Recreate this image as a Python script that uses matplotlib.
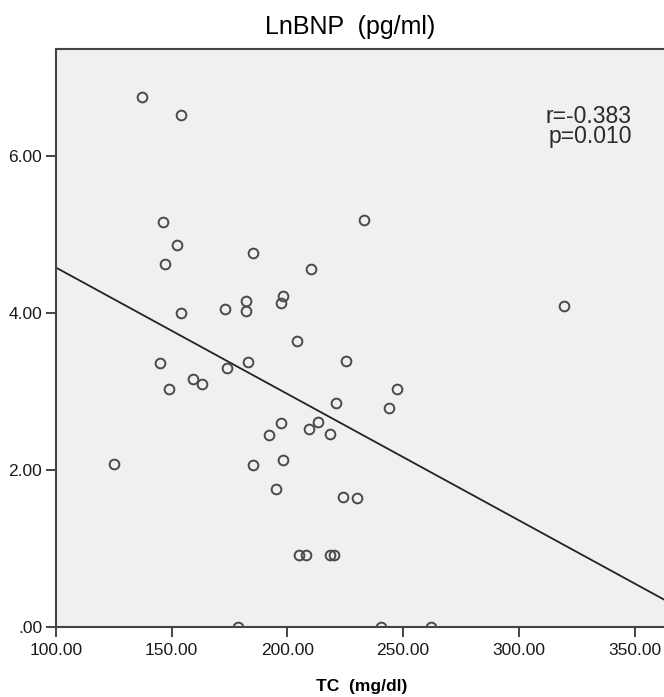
import matplotlib.pyplot as plt
import numpy as np

plt.rcParams['font.family'] = ['Liberation Sans', 'DejaVu Sans']

# TC (mg/dl) et LnBNP (pg/ml)
tc = [137.0, 154.0, 146.1, 152.1, 147.1, 185.1, 233.2, 210.2, 319.4, 198.2,
      197.1, 182.1, 182.1, 173.1, 154.1, 204.0, 145.1, 183.1, 174.0, 225.3,
      159.0, 163.1, 149.0, 221.2, 243.9, 247.4, 197.1, 192.0, 209.2, 213.2,
      218.3, 124.9, 185.1, 198.2, 195.1, 224.2, 230.2, 205.0, 208.2, 218.3,
      220.1, 178.8, 240.6, 262.1]
lnbnp = [6.75, 6.52, 5.16, 4.87, 4.62, 4.76, 5.19, 4.56, 4.09, 4.21,
         4.13, 4.15, 4.03, 4.05, 4.00, 3.64, 3.36, 3.37, 3.30, 3.39,
         3.16, 3.09, 3.03, 2.85, 2.79, 3.03, 2.59, 2.44, 2.52, 2.61,
         2.45, 2.07, 2.06, 2.12, 1.76, 1.65, 1.64, 0.91, 0.91, 0.91,
         0.91, 0.00, 0.00, 0.00]

x_ticks = [100, 150, 200, 250, 300, 350]
x_labels = ['100.00', '150.00', '200.00', '250.00', '300.00', '350.00']
y_ticks = [0, 2, 4, 6]
y_labels = ['.00', '2.00', '4.00', '6.00']

fig = plt.figure(figsize=(6.64, 6.97), dpi=100)
ax = fig.add_axes([0.0843, 0.1009, 0.9157, 0.8295])
ax.set_facecolor('#f0f0f0')

# droite de régression
a, b = np.polyfit(tc, lnbnp, 1)
xs = np.array([100, 370])
ax.plot(xs, a * xs + b, color='#222222', lw=1.3, zorder=2)

# points
ax.plot(tc, lnbnp, 'o', ms=7, mfc='none', mec='#4a4a4a', mew=1.4, zorder=3)

ax.set_xlim(100, 362.7)
ax.set_ylim(0, 7.37)
ax.set_xticks(x_ticks)
ax.set_xticklabels(x_labels)
ax.set_yticks(y_ticks)
ax.set_yticklabels(y_labels)
ax.tick_params(direction='out', length=7, width=1.4, color='#444444',
               labelsize=12.5, labelcolor='#1a1a1a')
ax.tick_params(axis='x', pad=5)
ax.tick_params(axis='y', pad=3)

for s in ['left', 'bottom', 'top']:
    ax.spines[s].set_color('#444444')
    ax.spines[s].set_linewidth(1.5)
ax.spines['right'].set_visible(False)

ax.text(0.947, 0.902, 'r=-0.383\np=0.010', transform=ax.transAxes,
        ha='right', va='top', fontsize=16.5, color='#2a2a2a', linespacing=0.85)

fig.text(0.527, 0.978, 'LnBNP  (pg/ml)', ha='center', va='top', fontsize=18)
fig.text(0.545, 0.005, 'TC  (mg/dl)', ha='center', va='bottom', fontsize=12.5,
         fontweight='bold')

plt.savefig('out.png', dpi=100)
